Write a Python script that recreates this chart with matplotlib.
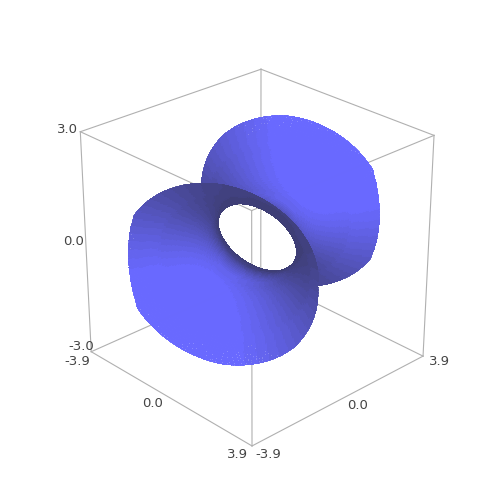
import numpy as np
import matplotlib
matplotlib.use('Agg')
import matplotlib.pyplot as plt

# Box limits and tick labels
xlims = [-3.9, 3.9]
ylims = [-3.9, 3.9]
zlims = [-3.0, 3.0]
tick_texts = ['3.0', '0.0', '-3.0', '-3.9', '0.0', '3.9', '-3.9', '0.0', '3.9']
tick_x = [-3.95, -3.95, -3.83, -3.93, 0.05, 4.15, 4.3, 4.6, 4.05]
tick_y = [-3.95, -3.95, -3.83, -3.93, -4.6, -4.3, -4.15, 0.0, 4.05]
tick_z = [3.05, 0.1, -2.85, -3.3, -2.95, -3.0, -3.0, -2.95, -3.15]
tick_ha = ['right', 'right', 'right', 'right', 'center', 'right', 'left', 'center', 'left']

# Surface: half widths of the tube along its axis
axis_dir = [0.433, -0.901]
z_mid = 0.25
prof_t = [0.0, 0.5, 1.0, 1.5, 2.0, 2.5, 3.0, 3.5]
prof_w = [1.45, 1.54, 1.78, 2.12, 2.52, 3.00, 3.50, 4.00]
prof_h = [1.00, 1.08, 1.25, 1.49, 1.78, 2.11, 2.46, 2.83]

# Where the open end of the tube stops, by angle round the axis (deg)
rim_phi = [0, 45, 90, 135, 180]
rim_t = [2.4, 2.7, 2.85, 2.9, 2.95]

elev = 27
azim = -43.5
bright = np.array([105, 105, 255]) / 255
dark = np.array([62, 62, 118]) / 255

# Build mesh
phi = np.deg2rad(np.linspace(0, 360, 361))
a = np.array(axis_dir)
a = a / np.linalg.norm(a)
p = np.array([-a[1], a[0]])
t2 = np.array(prof_t) ** 2
w2 = np.array(prof_w) ** 2
h2 = np.array(prof_h) ** 2


def point(t, ph):
    w = np.sqrt(np.interp(t ** 2, t2, w2)) * np.cos(ph)
    z = np.sqrt(np.interp(t ** 2, t2, h2)) * np.sin(ph)
    return t * a[0] + w * p[0], t * a[1] + w * p[1], z_mid + z


def end_t(ph, sign):
    # table limit, then cut by the box
    deg = np.rad2deg(ph if sign > 0 else ph + np.pi) % 360
    deg = np.where(deg > 180, 360 - deg, deg)
    tmax = np.interp(deg, rim_phi, rim_t)
    grid = np.linspace(0, 1, 300)
    out = np.zeros_like(ph)
    for i in range(len(ph)):
        ts = sign * grid * tmax[i]
        x, y, z = point(ts, ph[i])
        inside = (np.abs(x) <= xlims[1]) & (np.abs(y) <= ylims[1]) & (np.abs(z) <= zlims[1])
        k = len(ts) - 1 if inside.all() else np.argmin(inside) - 1
        out[i] = abs(ts[max(k, 0)])
    return out


te_pos = end_t(phi, 1)
te_neg = end_t(phi, -1)
s = np.linspace(-1, 1, 81)
S, PH = np.meshgrid(s, phi)
T = np.where(S > 0, S * te_pos[:, None], S * te_neg[:, None])
X, Y, Z = point(T, PH)

# Two sided headlight shading
zs = xlims[1] / zlims[1]
dX0, dX1 = np.gradient(X)
dY0, dY1 = np.gradient(Y)
dZ0, dZ1 = np.gradient(Z * zs)
nrm = np.cross(np.dstack([dX0, dY0, dZ0]), np.dstack([dX1, dY1, dZ1]))
nrm = nrm / (np.linalg.norm(nrm, axis=2, keepdims=True) + 1e-9)
e, az = np.deg2rad(elev), np.deg2rad(azim)
view = np.array([np.cos(e) * np.cos(az), np.cos(e) * np.sin(az), np.sin(e)])
shade = np.abs(nrm @ view)
shade = np.clip((shade - 0.12) / 0.75, 0, 1) ** 1.2
shade = np.round(shade * 16) / 16
cols = dark + (bright - dark) * shade[..., None]
rgba = np.dstack([cols, np.full(shade.shape, 0.8)])

# Plotting
fig = plt.figure(figsize=(5, 5), dpi=100)
ax = fig.add_axes([0, -0.008, 1, 1], projection='3d', computed_zorder=False)
ax.set_proj_type('persp', focal_length=0.65)
ax.view_init(elev=elev, azim=azim)
ax.set_box_aspect((1, 1, 1.02), zoom=0.82)
ax.set_xlim(xlims)
ax.set_ylim(ylims)
ax.set_zlim(zlims)
ax.set_axis_off()

# Frame
for xv in xlims:
    for yv in ylims:
        ax.plot([xv, xv], [yv, yv], zlims, color='#b0b0b0', lw=0.8, zorder=1)
for xv in xlims:
    for zv in zlims:
        ax.plot([xv, xv], ylims, [zv, zv], color='#b0b0b0', lw=0.8, zorder=1)
for yv in ylims:
    for zv in zlims:
        ax.plot(xlims, [yv, yv], [zv, zv], color='#b0b0b0', lw=0.8, zorder=1)

surf = ax.plot_surface(X, Y, Z, rstride=1, cstride=1, facecolors=rgba, shade=False,
                       linewidth=0.2, antialiased=False, zorder=2)
surf.set_edgecolor(rgba[:-1, :-1].reshape(-1, 4))

for i in range(len(tick_texts)):
    ax.text(tick_x[i], tick_y[i], tick_z[i], tick_texts[i], ha=tick_ha[i], va='center',
            fontsize=9.5, color='#444444', zorder=3)

fig.savefig('out.png', dpi=100)
